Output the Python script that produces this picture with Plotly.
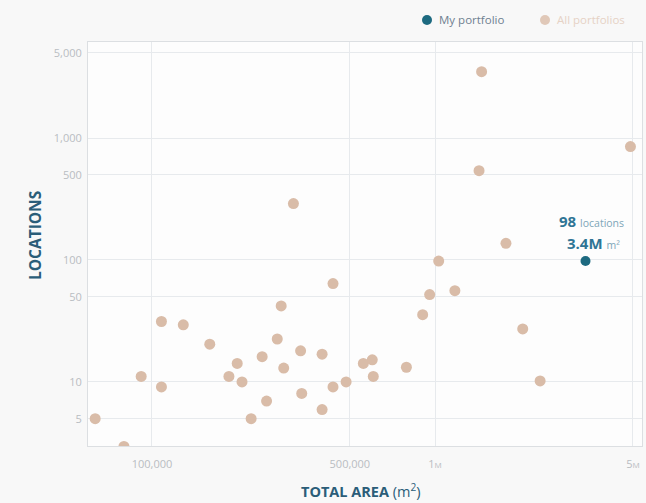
import numpy as np
import plotly.graph_objects as go

# Portfolio benchmark: total floor area (m²) vs number of locations
all_area = [1.46e6, 4.9e6, 1.43e6, 316e3, 1.78e6, 1.03e6, 436e3, 1.175e6, 957e3,
            286e3, 904e3, 2.04e6, 108e3, 129e3, 160e3, 277e3, 335e3, 399e3,
            245e3, 200e3, 558e3, 600e3, 292e3, 792e3, 91.6e3, 187e3, 605e3,
            208e3, 485e3, 2.35e6, 108e3, 436e3, 338e3, 254e3, 399e3, 224e3,
            63e3, 79.6e3]
all_locations = [3500, 850, 540, 290, 137, 98, 64, 56, 52,
                 42, 35.6, 27.2, 31.3, 29.4, 20.4, 22.5, 18, 16.9,
                 16.1, 14.2, 14.2, 15.2, 13, 13.2, 11.1, 11.1, 11.1,
                 10, 10, 10.2, 9.1, 9.1, 8.05, 6.97, 5.94, 5.0,
                 5.0, 2.96]

my_area = [3.4e6]
my_locations = [98]

y_tickvals = [5, 10, 50, 100, 500, 1000, 5000]
y_ticktext = ["5", "10", "50", "100", "500", "1,000", "5,000"]
x_tickvals = [100000, 500000, 1000000, 5000000]
x_ticktext = ["100,000", "500,000", "1<span style='font-size:8px'>M</span>",
              "5<span style='font-size:8px'>M</span>"]

W, H = 646, 503
ML, MR, MT, MB = 88, 4, 42, 57
PW, PH = W - ML - MR, H - MT - MB

FONT = "Open Sans"
TEAL = "#1d6a80"
TAN = "#d9bca8"
TITLE = "#2b5d78"
TICK = "#b8bdc2"
GRID = "#e7eaed"

fig = go.Figure()
fig.add_trace(go.Scatter(
    x=all_area, y=all_locations, mode="markers", name="All portfolios",
    marker=dict(size=11, color=TAN, line=dict(width=0)),
    showlegend=False, hoverinfo="x+y"))
fig.add_trace(go.Scatter(
    x=my_area, y=my_locations, mode="markers", name="My portfolio",
    marker=dict(size=10, color=TEAL, line=dict(width=0)),
    showlegend=False, hoverinfo="x+y"))

# label above my portfolio's point
fmt_area = f"{my_area[0] / 1e6:.1f}M"
fig.add_annotation(
    x=np.log10(my_area[0]), y=np.log10(my_locations[0]), xref="x", yref="y",
    text=f"<b>{my_locations[0]}</b> <span style='font-size:10.5px;color:#7ea6b8'>locations</span>",
    showarrow=False, yshift=40, xshift=6, xanchor="center", yanchor="middle",
    font=dict(family=FONT, size=15, color="#2f7595"))
fig.add_annotation(
    x=np.log10(my_area[0]), y=np.log10(my_locations[0]), xref="x", yref="y",
    text=f"<b>{fmt_area}</b> <span style='font-size:10.5px;color:#7ea6b8'>m²</span>",
    showarrow=False, yshift=18, xshift=8, xanchor="center", yanchor="middle",
    font=dict(family=FONT, size=15, color="#2f7595"))

# axis titles
fig.add_annotation(
    x=0, y=0.5, xref="paper", yref="paper", xshift=-53, yshift=8, textangle=-90,
    xanchor="center", yanchor="middle",
    text="<b>LOCATIONS</b>", showarrow=False,
    font=dict(family=FONT, size=15.5, color=TITLE))
fig.add_annotation(
    x=0.5, y=0, xref="paper", yref="paper", yshift=-44, xshift=-4,
    xanchor="center", yanchor="middle",
    text="<b>TOTAL AREA</b> (m<sup>2</sup>)", showarrow=False,
    font=dict(family=FONT, size=14.5, color=TITLE))

# custom legend across the top
def px_to_paper(px, py):
    return (px - ML) / PW, (H - MB - py) / PH

legend_items = [("My portfolio", TEAL, "#6f8090", 427),
                ("All portfolios", "#e0c8b8", "#e6d2c5", 545)]
for label, dot_color, text_color, cx in legend_items:
    xp, yp = px_to_paper(cx, 20)
    fig.add_shape(type="circle", xref="paper", yref="paper",
                  xsizemode="pixel", ysizemode="pixel",
                  xanchor=xp, yanchor=yp, x0=-5, x1=5, y0=-5, y1=5,
                  fillcolor=dot_color, line=dict(width=0))
    fig.add_annotation(x=xp, y=yp, xref="paper", yref="paper", xshift=10,
                       xanchor="left", yanchor="middle", text=label,
                       showarrow=False,
                       font=dict(family=FONT, size=11.5, color=text_color))

fig.update_xaxes(
    type="log", range=[4.774, 6.731],
    tickvals=x_tickvals, ticktext=x_ticktext,
    showgrid=True, gridcolor=GRID, gridwidth=1,
    ticks="outside", ticklen=8, tickcolor="rgba(0,0,0,0)",
    tickfont=dict(family=FONT, size=11, color=TICK),
    showline=True, linecolor="#dcdfe2", linewidth=1, mirror=True,
    zeroline=False)
fig.update_yaxes(
    type="log", range=[0.475, 3.787],
    tickvals=y_tickvals, ticktext=y_ticktext,
    showgrid=True, gridcolor=GRID, gridwidth=1,
    ticks="outside", ticklen=3, tickcolor="rgba(0,0,0,0)",
    tickfont=dict(family=FONT, size=11, color=TICK),
    showline=True, linecolor="#dcdfe2", linewidth=1, mirror=True,
    zeroline=False)

fig.update_layout(
    width=W, height=H,
    margin=dict(l=ML, r=MR, t=MT, b=MB),
    paper_bgcolor="#f8f8f8", plot_bgcolor="#fdfdfd",
    font=dict(family=FONT),
    showlegend=False)

fig.write_html("out.html")
